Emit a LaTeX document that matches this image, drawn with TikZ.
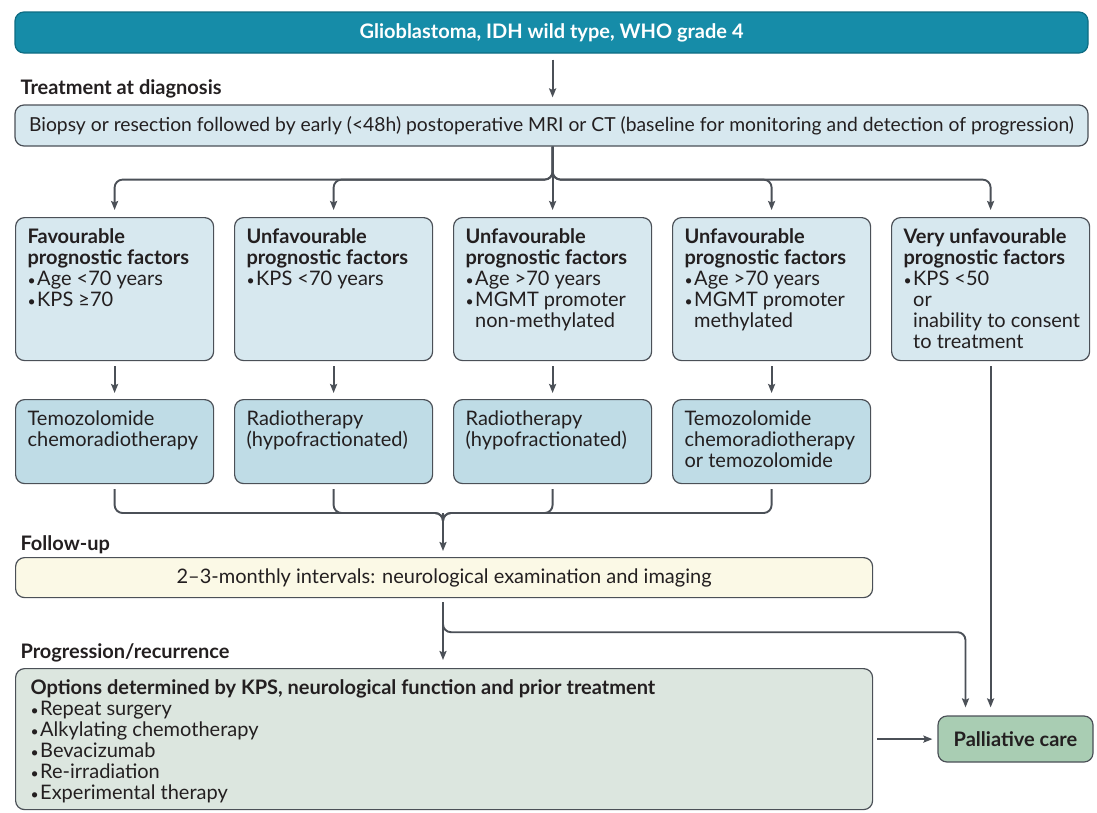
\documentclass[tikz,border=0pt]{standalone}
\usepackage{fontspec}
\setmainfont{Lato}
\usepackage{tikz}
\usetikzlibrary{arrows.meta}
\usepackage{xcolor}
\definecolor{headteal}{HTML}{168CA8}
\definecolor{headedge}{HTML}{0E6C83}
\definecolor{factorblue}{HTML}{D7E8EF}
\definecolor{therapyblue}{HTML}{BFDCE6}
\definecolor{followyellow}{HTML}{FBF9E6}
\definecolor{proggreen}{HTML}{DCE6DF}
\definecolor{palliagreen}{HTML}{A9CDB3}
\definecolor{linegray}{HTML}{4B5057}
\definecolor{textdark}{HTML}{231F20}
\newcommand{\bitem}{{\fontsize{14}{14}\selectfont\textbullet}\hspace{1.5pt}}
\newcommand{\bcont}{\hphantom{\bitem}}
\newcommand{\topbox}[3]{\parbox[c][#1][t]{#2}{\raggedright #3}}

\begin{document}
\begin{tikzpicture}[x=1pt,y=-1pt,>={Stealth[length=9pt,width=7pt,inset=1.5pt]},
  font=\fontsize{20}{21}\selectfont,text=textdark,
  conn/.style={draw=linegray,line width=1.9pt,rounded corners=8pt},
  card/.style={draw=linegray,line width=1.2pt,rounded corners=9pt,inner sep=0pt},
  heading/.style={anchor=base west,font=\fontsize{20}{21}\selectfont\bfseries}]
\useasboundingbox (0,0) rectangle (1097,812);

\node[card,fill=headteal,draw=headedge,minimum width=1073pt,minimum height=41pt,text=white,font=\fontsize{20}{21}\selectfont\bfseries] (who) at (551.5,32.5) {Glioblastoma, IDH wild type, WHO grade 4};
\node[heading] (diag) at (17,94) {Treatment at diagnosis};
\node[card,fill=factorblue,minimum width=1073pt,minimum height=41pt,font=\fontsize{19.3}{21}\selectfont] (biopsy) at (551.5,125.5) {Biopsy or resection followed by early (<48h) postoperative MRI or CT (baseline for monitoring and detection of progression)};

\node[card,fill=factorblue,anchor=north west,minimum width=198pt,minimum height=143pt] (f1) at (15,217) {\topbox{121pt}{174pt}{\textbf{Favourable\\prognostic factors}\\\bitem Age <70 years\\\bitem KPS ≥70}};
\node[card,fill=factorblue,anchor=north west,minimum width=198pt,minimum height=143pt] (f2) at (234,217) {\topbox{121pt}{174pt}{\textbf{Unfavourable\\prognostic factors}\\\bitem KPS <70 years}};
\node[card,fill=factorblue,anchor=north west,minimum width=198pt,minimum height=143pt] (f3) at (453,217) {\topbox{121pt}{174pt}{\textbf{Unfavourable\\prognostic factors}\\\bitem Age >70 years\\\bitem MGMT promoter\\\bcont non-methylated}};
\node[card,fill=factorblue,anchor=north west,minimum width=198pt,minimum height=143pt] (f4) at (672,217) {\topbox{121pt}{174pt}{\textbf{Unfavourable\\prognostic factors}\\\bitem Age >70 years\\\bitem MGMT promoter\\\bcont methylated}};
\node[card,fill=factorblue,anchor=north west,minimum width=198pt,minimum height=143pt] (f5) at (891,217) {\topbox{121pt}{174pt}{\textbf{Very unfavourable\\prognostic factors}\\\bitem KPS <50\\\bcont or\\\bcont\mbox{inability to consent}\\\bcont to treatment}};

\node[card,fill=therapyblue,anchor=north west,minimum width=198pt,minimum height=84pt] (t1) at (15,399) {\topbox{62pt}{174pt}{Temozolomide\\chemoradiotherapy}};
\node[card,fill=therapyblue,anchor=north west,minimum width=198pt,minimum height=84pt] (t2) at (234,399) {\topbox{62pt}{174pt}{Radiotherapy\\(hypofractionated)}};
\node[card,fill=therapyblue,anchor=north west,minimum width=198pt,minimum height=84pt] (t3) at (453,399) {\topbox{62pt}{174pt}{Radiotherapy\\(hypofractionated)}};
\node[card,fill=therapyblue,anchor=north west,minimum width=198pt,minimum height=84pt] (t4) at (672,399) {\topbox{62pt}{174pt}{Temozolomide\\chemoradiotherapy\\or temozolomide}};

\node[heading] (fulab) at (17,550) {Follow-up};
\node[card,fill=followyellow,anchor=north west,minimum width=857pt,minimum height=40pt] (fu) at (15,557) {2–3-monthly intervals: neurological examination and imaging};
\node[heading] (proglab) at (17,658) {Progression/recurrence};
\node[card,fill=proggreen,anchor=north west,minimum width=857pt,minimum height=141pt] (prog) at (15,668) {\topbox{119pt}{827pt}{\textbf{Options determined by KPS, neurological function and prior treatment}\\\bitem Repeat surgery\\\bitem Alkylating chemotherapy\\\bitem Bevacizumab\\\bitem Re-irradiation\\\bitem Experimental therapy}};
\node[card,fill=palliagreen,minimum width=155pt,minimum height=46pt,font=\fontsize{20}{21}\selectfont\bfseries] (pc) at (1015.5,739) {Palliative care};

\draw[conn,->,shorten <=6pt,shorten >=7pt] (who.south -| f3.north) -- (biopsy.north -| f3.north);
\foreach \f in {f1,f2,f4,f5}
  \draw[conn,->,shorten >=7pt] (biopsy.south -| f3.north) -- ++(0,33) -| (\f.north);
\draw[conn,->,shorten >=7pt] (biopsy.south -| f3.north) -- (f3.north);
\foreach \i in {1,...,4}
  \draw[conn,->,shorten <=5pt,shorten >=6pt] (f\i.south) -- (t\i.north);

\coordinate (join) at (443,513);
\foreach \i in {1,...,4}
  \draw[conn,shorten <=5pt] (t\i.south) |- (join) -- ++(0,10);
\draw[conn,->,shorten >=6pt] (join) -- (join |- fu.north);

\draw[conn,->,shorten <=4pt,shorten >=8pt] (fu.south -| join) -- (prog.north -| join);
\draw[conn,->,shorten <=4pt,shorten >=8pt] (fu.south -| join) -- ++(0,34) -| ([xshift=-50pt]pc.north);
\draw[conn,->,shorten <=5pt,shorten >=8pt] (f5.south) -- (f5.south |- pc.north);
\draw[conn,->,shorten <=4pt,shorten >=5pt] (prog.east) -- (prog.east -| pc.west);
\end{tikzpicture}
\end{document}
